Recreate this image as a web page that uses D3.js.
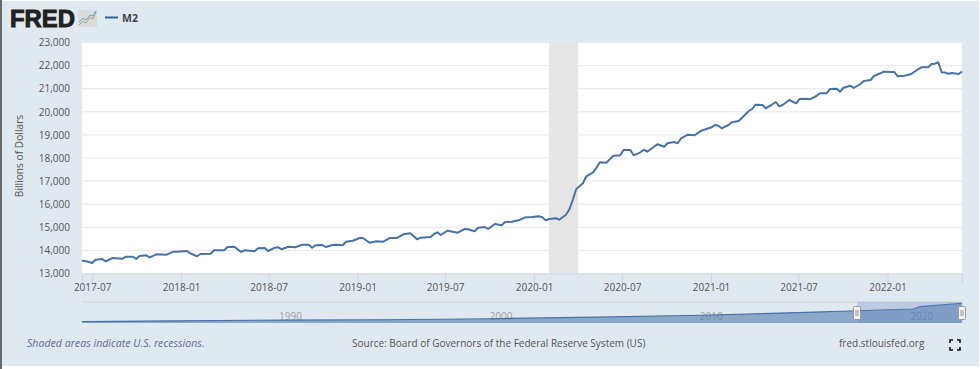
<!DOCTYPE html>
<html>
<head>
<meta charset="utf-8">
<script src="https://cdn.jsdelivr.net/npm/d3@7"></script>
<style>
  html, body { margin: 0; padding: 0; background: #fff; overflow: hidden; }
  svg { display: block; }
  text { font-family: "Open Sans", sans-serif; }
</style>
</head>
<body>
<div id="chart"></div>
<script>
// weeks counted from the first observation on the chart
const firstWeek = "2017-06-10";
const lastWeek = "2022-06-04";
const weekNumbers = [0,1,3,4,6,7,9,12,13,15,16,17,19,20,22,25,27,28,31,32,34,35,38,39,42,43,45,47,48,51,52,54,55,57,58,59,61,63,65,67,68,69,71,72,74,75,77,78,80,82,83,85,87,89,91,93,95,97,99,100,103,104,105,106,108,111,113,114,116,117,119,120,122,124,125,127,129,131,133,135,136,137,138,140,141,143,144,145,146,148,149,151,152,153,155,156,157,159,160,162,163,165,166,167,170,172,173,175,176,177,179,181,183,186,187,188,189,191,192,194,195,197,198,199,201,202,204,205,206,207,209,211,212,214,215,217,218,220,221,223,224,225,226,227,228,230,231,233,234,237,239,240,241,243,245,247,248,250,251,252,253,254,255,256,257,259,260];
const m2Values = [13554,13541,13455,13597,13628,13528,13671,13640,13727,13727,13628,13758,13787,13700,13830,13815,13945,13945,13974,13875,13745,13844,13857,14004,14004,14147,14160,13930,14004,13961,14091,14104,13974,14117,14134,14048,14160,14134,14247,14247,14117,14221,14234,14147,14234,14247,14221,14377,14420,14537,14537,14333,14394,14377,14537,14537,14697,14740,14480,14550,14580,14710,14783,14667,14853,14766,14926,14913,14827,14983,15013,14926,15143,15087,15229,15242,15303,15433,15446,15476,15433,15303,15359,15390,15329,15545,15779,16182,16645,16905,17208,17381,17580,17814,17797,17957,18100,18117,18346,18346,18117,18247,18359,18273,18593,18489,18636,18693,18636,18853,19009,18983,19182,19329,19429,19398,19286,19429,19545,19602,19745,20035,20121,20307,20294,20151,20325,20424,20238,20294,20511,20368,20554,20567,20541,20684,20801,20801,20987,21000,20870,21043,21087,21130,21030,21203,21333,21377,21550,21736,21723,21723,21537,21563,21636,21840,21926,21926,22070,22083,22143,21710,21697,21650,21680,21636,21736];

const yTicks = [13000,14000,15000,16000,17000,18000,19000,20000,21000,22000,23000];
const xTicks = ["2017-07-01","2018-01-01","2018-07-01","2019-01-01","2019-07-01","2020-01-01","2020-07-01","2021-01-01","2021-07-01","2022-01-01"];
const recession = ["2020-02-01","2020-04-01"];

// navigator: the long history of the series
const navDates = ["1980-08-01","1985-01-01","1990-01-01","1995-01-01","2000-01-01","2005-01-01","2010-01-01","2015-01-01","2017-06-01","2020-02-01","2020-06-01","2022-06-01"];
const navValues = [1600,2400,3200,3600,4700,6400,8500,11700,13500,15400,18000,21700];
const navTicks = ["1990-07-01","2000-07-01","2010-07-01","2020-07-01"];

const width = 980, height = 369;
const plot = { left: 82, right: 962, top: 42.5, bottom: 273.5 };
const nav = { top: 302, bottom: 323 };
const parse = d3.utcParse("%Y-%m-%d");
const textColor = "#555";
const lineColor = "#4572a7";

const svg = d3.select("#chart").append("svg").attr("width", width).attr("height", height);

// panel
svg.append("rect").attr("x", 0).attr("y", 1).attr("width", 979).attr("height", 365).attr("fill", "#e1e9f0");
svg.append("rect").attr("x", 0).attr("y", 0).attr("width", 2).attr("height", height).attr("fill", "#6a6a6a");

// logo
svg.append("text").attr("x", 10).attr("y", 26.5).attr("textLength", 65).attr("lengthAdjust", "spacingAndGlyphs")
  .style("font-family", "'Liberation Sans', sans-serif").style("font-weight", 700).style("font-size", "23px")
  .attr("fill", "#231f20").attr("stroke", "#231f20").attr("stroke-width", 0.9).text("FRED");
const logo = svg.append("g").attr("transform", "translate(78,10)");
logo.append("rect").attr("width", 19).attr("height", 17).attr("fill", "#d9dcdc");
logo.append("path").attr("d", "M1,15 L5,11 L8,13 L12,7 L15,9 L18,2").attr("fill", "none").attr("stroke", "#8fb08a").attr("stroke-width", 1);
logo.append("path").attr("d", "M1,12 L5,8 L8,10 L12,5 L15,6 L18,1").attr("fill", "none").attr("stroke", "#7f9fc0").attr("stroke-width", 1);

// legend
svg.append("line").attr("x1", 105).attr("x2", 118).attr("y1", 17.5).attr("y2", 17.5).attr("stroke", "#2f5f9e").attr("stroke-width", 2);
svg.append("text").attr("x", 122).attr("y", 22).style("font-size", "10.5px").style("font-weight", 700).attr("fill", "#444").text("M2");

// scales
const x = d3.scaleUtc().domain([parse(firstWeek), parse(lastWeek)]).range([plot.left, plot.right]);
const y = d3.scaleLinear().domain([13000, 23000]).range([plot.bottom, plot.top]);
const navX = d3.scaleUtc().domain([parse(navDates[0]), parse(navDates[navDates.length - 1])]).range([plot.left, plot.right]);
const navY = d3.scaleLinear().domain([0, 22000]).range([nav.bottom, 303]);

svg.append("rect").attr("x", plot.left).attr("y", plot.top).attr("width", plot.right - plot.left)
  .attr("height", plot.bottom - plot.top).attr("fill", "#fff");

// grid
svg.append("g").selectAll("line").data(yTicks.slice(1)).enter().append("line")
  .attr("x1", plot.left).attr("x2", plot.right)
  .attr("y1", d => y(d)).attr("y2", d => y(d))
  .attr("stroke", "#e8e8e8").attr("stroke-width", 1);

// recession band
svg.append("rect")
  .attr("x", x(parse(recession[0]))).attr("y", plot.top)
  .attr("width", x(parse(recession[1])) - x(parse(recession[0])))
  .attr("height", plot.bottom - plot.top).attr("fill", "#e5e5e5");

// y axis
const yAxis = svg.append("g").attr("transform", "translate(" + plot.left + ",0)")
  .call(d3.axisLeft(y).tickValues(yTicks).tickFormat(d3.format(",")).tickSize(0).tickPadding(12));
yAxis.select(".domain").remove();
yAxis.selectAll("text").style("font-size", "10px").style("font-family", "'Open Sans', sans-serif").attr("fill", textColor);

svg.append("text").attr("transform", "translate(23,156) rotate(-90)").attr("text-anchor", "middle")
  .style("font-size", "10.2px").attr("fill", textColor).text("Billions of Dollars");

// x axis
const xAxis = svg.append("g").attr("transform", "translate(0," + plot.bottom + ")")
  .call(d3.axisBottom(x).tickValues(xTicks.map(parse)).tickFormat(d3.utcFormat("%Y-%m")).tickSize(10).tickPadding(0));
xAxis.select(".domain").attr("stroke", "#ccd6eb");
xAxis.selectAll("line").attr("stroke", "#ccd6eb");
xAxis.selectAll("text").attr("dy", "0.9em").attr("y", 8.5).style("font-size", "10px").style("font-family", "'Open Sans', sans-serif").attr("fill", textColor);

// series
const series = weekNumbers.map((w, i) => ({ date: d3.utcDay.offset(parse(firstWeek), w * 7), value: m2Values[i] }));
svg.append("path").datum(series)
  .attr("fill", "none").attr("stroke", lineColor).attr("stroke-width", 2).attr("stroke-linejoin", "round")
  .attr("d", d3.line().x(d => x(d.date)).y(d => y(d.value)));

// navigator
svg.append("line").attr("x1", plot.left).attr("x2", plot.right).attr("y1", nav.top).attr("y2", nav.top).attr("stroke", "#cfcfcf");
svg.append("g").selectAll("text").data(navTicks).enter().append("text")
  .attr("x", d => navX(parse(d))).attr("y", 319.5).attr("text-anchor", "middle")
  .style("font-size", "10px").attr("fill", "#a0a0a0").text(d => d.slice(0, 4));

const navSeries = navDates.map((d, i) => ({ date: parse(d), value: navValues[i] }));
svg.append("path").datum(navSeries).attr("fill", "#4572a7").attr("fill-opacity", 0.55)
  .attr("d", d3.area().x(d => navX(d.date)).y0(nav.bottom).y1(d => navY(d.value)));
svg.append("path").datum(navSeries).attr("fill", "none").attr("stroke", lineColor).attr("stroke-width", 1.2)
  .attr("d", d3.line().x(d => navX(d.date)).y(d => navY(d.value)));

const winLeft = navX(parse(firstWeek)), winRight = navX(parse(lastWeek));
svg.append("rect").attr("x", winLeft).attr("y", nav.top).attr("width", winRight - winLeft)
  .attr("height", nav.bottom - nav.top).attr("fill", "#6685c2").attr("fill-opacity", 0.3);

[winLeft, winRight].forEach(function(hx) {
  const h = svg.append("g").attr("transform", "translate(" + Math.round(hx) + ",313)");
  h.append("rect").attr("x", -3.5).attr("y", -6.5).attr("width", 7).attr("height", 13).attr("rx", 1)
    .attr("fill", "#f2f2f2").attr("stroke", "#999");
  h.append("line").attr("x1", -1).attr("x2", -1).attr("y1", -3).attr("y2", 3).attr("stroke", "#999");
  h.append("line").attr("x1", 1).attr("x2", 1).attr("y1", -3).attr("y2", 3).attr("stroke", "#999");
});

// footer
svg.append("text").attr("x", 27).attr("y", 346.5).style("font-size", "10.6px").style("font-style", "italic")
  .attr("fill", "#66699a").text("Shaded areas indicate U.S. recessions.");
svg.append("text").attr("x", 352).attr("y", 346.5).style("font-size", "10px").attr("fill", textColor)
  .text("Source: Board of Governors of the Federal Reserve System (US)");
svg.append("text").attr("x", 839).attr("y", 346.5).style("font-size", "10px").attr("fill", textColor).text("fred.stlouisfed.org");

// fullscreen icon
svg.append("path").attr("transform", "translate(950,340)")
  .attr("d", "M0,3 V0 H3 M7,0 H10 V3 M10,7 V10 H7 M3,10 H0 V7")
  .attr("fill", "none").attr("stroke", "#111").attr("stroke-width", 1.6);
</script>
</body>
</html>
